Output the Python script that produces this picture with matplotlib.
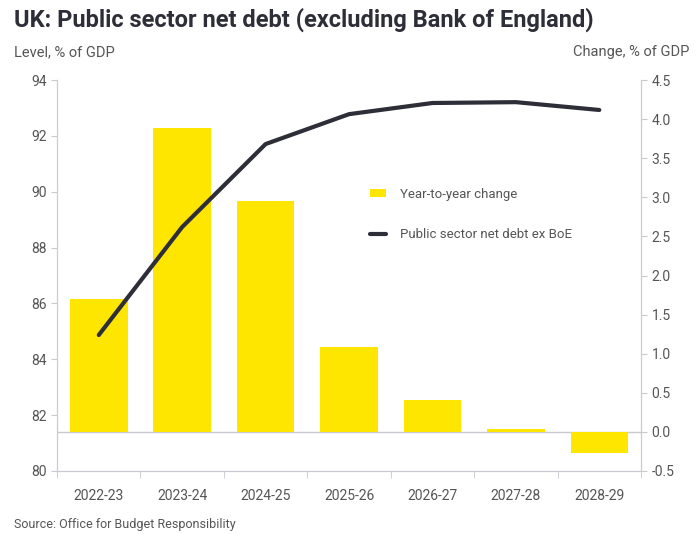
import matplotlib.pyplot as plt
import numpy as np

plt.rcParams['font.family'] = ['Roboto', 'DejaVu Sans']

years = ['2022-23', '2023-24', '2024-25', '2025-26', '2026-27', '2027-28', '2028-29']
debt_level = [84.87, 88.74, 91.71, 92.78, 93.18, 93.21, 92.93]
yoy_change = [1.70, 3.89, 2.95, 1.09, 0.41, 0.04, -0.27]

yellow = '#FFE600'
dark = '#2E2E38'
grey = '#C9C9D1'
text_col = '#555555'

fig = plt.figure(figsize=(6.96, 5.34), dpi=100)
ax = fig.add_axes([0.082, 0.118, 0.839, 0.732])
ax2 = ax.twinx()

x = np.arange(len(years))

# bars on the right-hand scale, line on the left
ax2.bar(x, yoy_change, width=0.69, color=yellow, zorder=2, label='Year-to-year change')
ax2.axhline(0, color=grey, lw=1, zorder=1)
ax.plot(x, debt_level, color=dark, lw=3, solid_capstyle='round',
        label='Public sector net debt ex BoE')
ax.set_zorder(ax2.get_zorder() + 1)
ax.patch.set_visible(False)

ax.set_xlim(-0.5, len(years) - 0.5)
ax.set_ylim(80, 94)
ax.set_yticks(np.arange(80, 95, 2))
ax2.set_ylim(-0.5, 4.5)
ax2.set_yticks(np.arange(-0.5, 4.51, 0.5))
ax2.set_yticklabels([f'{v:.1f}' for v in np.arange(-0.5, 4.51, 0.5)])

ax.set_xticks(x)
ax.set_xticklabels(years)
ax.set_xticks(np.arange(-0.5, len(years)), minor=True)
ax.tick_params(axis='x', which='major', length=0, pad=13)
ax.tick_params(axis='x', which='minor', length=5, color=grey)

for a in (ax, ax2):
    for side in a.spines:
        a.spines[side].set_color(grey)
    a.spines['top'].set_visible(False)
    a.tick_params(axis='y', length=4, color=grey, labelcolor=text_col, labelsize=10)
    a.tick_params(axis='x', labelcolor=text_col, labelsize=10)

# legend combines both axes
h1, l1 = ax2.get_legend_handles_labels()
h2, l2 = ax.get_legend_handles_labels()
leg = ax.legend(h1 + h2, l1 + l2, loc='upper left', bbox_to_anchor=(0.515, 0.755),
                frameon=False, fontsize=9.5, labelspacing=2.1,
                handlelength=1.2, handleheight=0.6, handletextpad=1.1)
for t in leg.get_texts():
    t.set_color(text_col)

fig.text(0.02, 0.985, 'UK: Public sector net debt (excluding Bank of England)',
         fontsize=17, fontweight='bold', color=dark, va='top')
fig.text(0.02, 0.903, 'Level, % of GDP', fontsize=10.5, color=text_col, va='center')
fig.text(0.99, 0.903, 'Change, % of GDP', fontsize=10.5, color=text_col,
         va='center', ha='right')
fig.text(0.02, 0.005, 'Source: Office for Budget Responsibility', fontsize=9,
         color=text_col, va='bottom')

fig.savefig('out.png', dpi=100, facecolor='white')
